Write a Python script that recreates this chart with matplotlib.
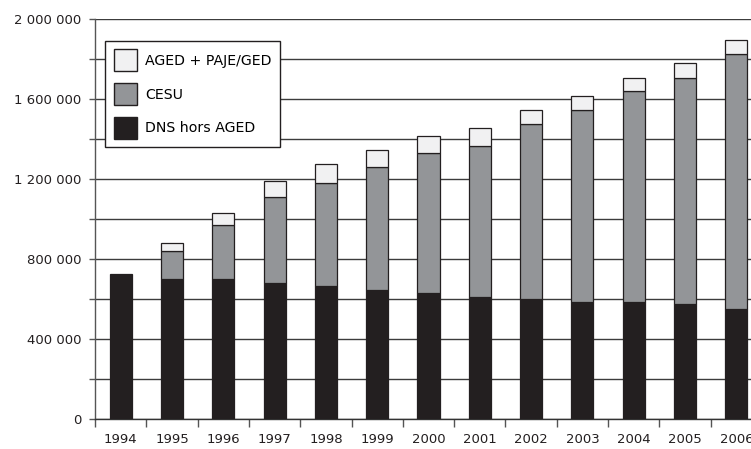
import matplotlib.pyplot as plt
from matplotlib.patches import Patch
from matplotlib.ticker import MultipleLocator, FuncFormatter

# ===== data =====
years = ["1994", "1995", "1996", "1997", "1998", "1999", "2000",
         "2001", "2002", "2003", "2004", "2005", "2006"]
dns_hors_aged = [726000, 700000, 702000, 680000, 667000, 645000, 633000,
                 610000, 600000, 588000, 588000, 576000, 551000]
cesu = [0, 141000, 270000, 429000, 514000, 617000, 699000,
        757000, 874000, 956000, 1051000, 1131000, 1274000]
aged_paje = [0, 38000, 57000, 83000, 93000, 83000, 83000,
             87000, 71000, 70000, 68000, 72000, 69000]

# ===== style =====
plt.rcParams.update({
    "font.family": "DejaVu Sans",
    "font.size": 9.5,
})
c_dark = "#231f20"
c_mid = "#939598"
c_light = "#f1f1f2"
c_grid = "#3c3c3c"

fig = plt.figure(figsize=(7.51, 4.49), dpi=100)
# axes run past the right edge, as in the cropped original
ax = fig.add_axes([95 / 751, 29.7 / 449, 667 / 751, 400.3 / 449])

x = list(range(len(years)))
w = 0.43
lw = 0.9

def widths(vals):
    return [lw if v > 0 else 0 for v in vals]

ax.bar(x, dns_hors_aged, width=w, color=c_dark, edgecolor=c_dark, linewidth=lw, zorder=3)
ax.bar(x, cesu, width=w, bottom=dns_hors_aged, color=c_mid, edgecolor=c_dark,
       linewidth=widths(cesu), zorder=3)
bottom2 = [a + b for a, b in zip(dns_hors_aged, cesu)]
ax.bar(x, aged_paje, width=w, bottom=bottom2, color=c_light, edgecolor=c_dark,
       linewidth=widths(aged_paje), zorder=3)

# ===== axes =====
ax.set_xlim(-0.5, len(years) - 0.5)
ax.set_ylim(0, 2000000)
ax.set_xticks(x)
ax.set_xticklabels(years)
ax.set_xticks([i - 0.5 for i in range(len(years) + 1)], minor=True)
ax.tick_params(axis="x", which="major", length=0, pad=10, colors="#231f20")
ax.tick_params(axis="x", which="minor", length=6, width=1, color="#555555", direction="out")

ax.yaxis.set_major_locator(MultipleLocator(400000))
ax.yaxis.set_minor_locator(MultipleLocator(200000))
ax.yaxis.set_major_formatter(FuncFormatter(lambda v, p: f"{int(v):,}".replace(",", " ")))
ax.tick_params(axis="y", which="both", length=4, width=1, color="#555555", pad=6,
               labelcolor="#231f20")

ax.grid(True, axis="y", which="both", color=c_grid, linewidth=1.0, zorder=0)
ax.set_axisbelow(True)
for s in ["top", "right"]:
    ax.spines[s].set_visible(False)
ax.spines["left"].set_color("#555555")
ax.spines["bottom"].set_color("#333333")
ax.spines["left"].set_linewidth(1)
ax.spines["bottom"].set_linewidth(1)

# ===== legend =====
handles = [
    Patch(facecolor=c_light, edgecolor=c_dark, linewidth=1),
    Patch(facecolor=c_mid, edgecolor=c_dark, linewidth=1),
    Patch(facecolor=c_dark, edgecolor=c_dark, linewidth=1),
]
labels = ["AGED + PAJE/GED", "CESU", "DNS hors AGED"]
leg = ax.legend(handles, labels, loc="upper left", bbox_to_anchor=(0.0154, 0.9458),
                borderaxespad=0, fancybox=False, framealpha=1, edgecolor=c_dark,
                fontsize=10.2, handlelength=1.66, handleheight=2.0, handletextpad=0.56,
                labelspacing=0.85, borderpad=0.6)
leg.get_frame().set_linewidth(1)
leg.set_zorder(5)

fig.savefig("out.png", dpi=100)
